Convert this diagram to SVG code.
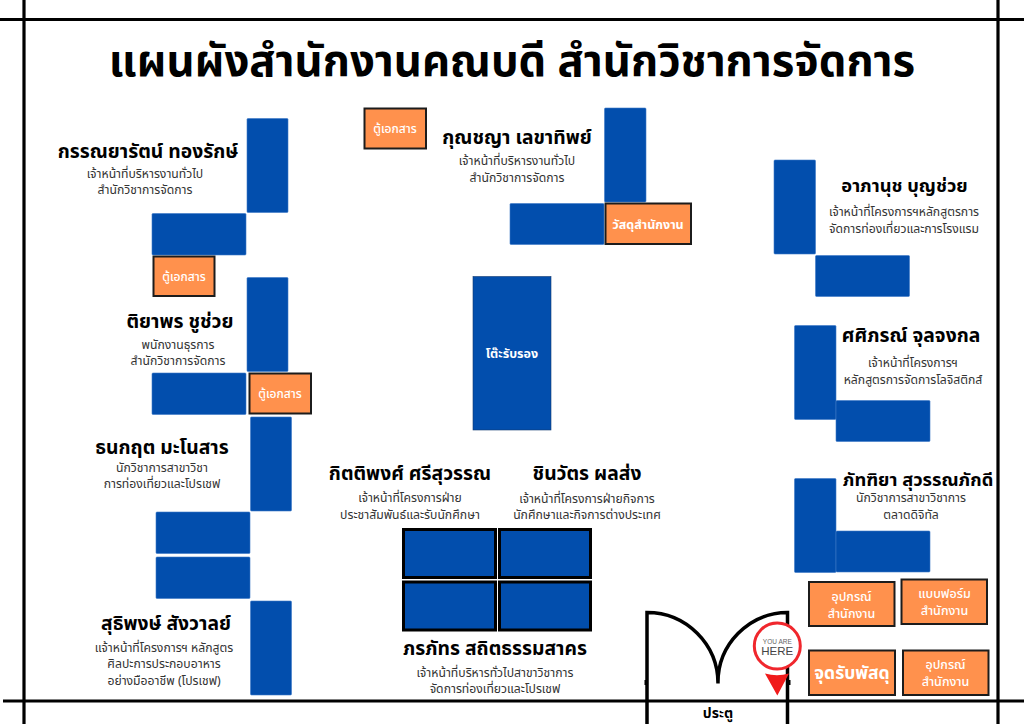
<svg xmlns="http://www.w3.org/2000/svg" width="1024" height="724" viewBox="0 0 1024 724">
<style>
text{font-family:"Noto Sans Thai","Noto Sans","Noto Sans CJK SC","DejaVu Sans","Liberation Sans",sans-serif;text-anchor:middle}
.desk{fill:#024ead;stroke:#3c78c8;stroke-width:.6}
.bdesk{fill:#024ead;stroke:#000;stroke-width:3}
.cab{fill:#ff914d;stroke:#1c1c1c;stroke-width:2}
.wall{stroke:#000;stroke-width:3.200;fill:none}
.n{font-size:19.300px;font-weight:700;fill:#000}
.ns{font-size:18.300px}
.r{font-size:12.200px;fill:#333}
.c{font-size:12px;font-weight:500;fill:#fff}
.c2{font-size:12.500px}
</style>
<rect width="1024" height="724" fill="#fff"/>
<g id="walls">
<path class="wall" d="M0 19.500H1024M24 0V724M998 0V724M3 701H1024"/>
</g>
<text id="title" x="512" y="76" style="font-size:43.600px;font-weight:700;fill:#000">แผนผังสำนักงานคณบดี สำนักวิชาการจัดการ</text>
<g id="door">
<path class="wall" d="M647 724V612.500A71 71 0 0 1 718 683.500M718 683.500A70 70 0 0 1 787.500 612.500V724" style="stroke-width:3.500"/>
<path d="M646 680v5M789 680v5" stroke="#000" stroke-width="3" fill="none"/>
<text x="718" y="718" style="font-size:14px;font-weight:700;fill:#000">ประตู</text>
</g>
<g id="you-are-here">
<circle cx="777.300" cy="646" r="23" fill="#fff" stroke="#f0272d" stroke-width="3"/>
<text x="777.300" y="644" style="font-size:6.500px;fill:#666;font-family:'Liberation Sans',sans-serif">YOU ARE</text>
<text x="777.300" y="655" style="font-size:11.500px;fill:#444;font-family:'Liberation Sans',sans-serif">HERE</text>
<path d="M765 673.500Q777 677 789 673.500L777.300 695.500Z" fill="#f01a1a"/>
</g>
<g id="furniture">
<rect class="desk" x="247" y="118.500" width="41" height="94" rx="1"/>
<rect class="desk" x="152" y="213.500" width="94" height="41.500" rx="1"/>
<rect class="desk" x="247" y="277.500" width="41" height="94" rx="1"/>
<rect class="desk" x="152" y="373" width="94" height="41.500" rx="1"/>
<rect class="desk" x="250.500" y="417" width="41" height="94" rx="1"/>
<rect class="desk" x="156" y="512" width="94" height="41.500" rx="1"/>
<rect class="desk" x="156" y="557" width="94" height="41.500" rx="1"/>
<rect class="desk" x="250.500" y="601" width="41" height="94" rx="1"/>
<rect class="desk" x="604.500" y="108" width="41.500" height="94" rx="1"/>
<rect class="desk" x="510" y="203.500" width="94" height="41" rx="1"/>
<rect class="desk" x="774" y="160" width="41.500" height="94" rx="1"/>
<rect class="desk" x="815.500" y="255.500" width="94" height="41" rx="1"/>
<rect class="desk" x="794.500" y="325.500" width="41.500" height="94" rx="1"/>
<rect class="desk" x="836" y="400.500" width="94" height="41" rx="1"/>
<rect class="desk" x="794.500" y="478.500" width="41.500" height="94" rx="1"/>
<rect class="desk" x="836" y="531" width="94" height="41" rx="1"/>
<rect class="desk" x="473" y="276.500" width="78" height="153.500" style="stroke:#123a70"/>
<rect class="bdesk" x="403.500" y="529.500" width="92" height="48"/>
<rect class="bdesk" x="499.500" y="529.500" width="91" height="48"/>
<rect class="bdesk" x="403.500" y="582" width="92" height="48"/>
<rect class="bdesk" x="499.500" y="582" width="91" height="48"/>
</g>
<g id="table"><text class="c" x="512" y="358" style="font-weight:700;font-size:12.500px">โต๊ะรับรอง</text></g>
<g id="cab1"><rect class="cab" x="364.500" y="108.500" width="61.500" height="40"/><text class="c" x="395" y="133">ตู้เอกสาร</text></g>
<g id="cab2"><rect class="cab" x="153.500" y="256.500" width="61" height="39.500"/><text class="c" x="184" y="281">ตู้เอกสาร</text></g>
<g id="cab3"><rect class="cab" x="249.500" y="373.500" width="61.500" height="40"/><text class="c" x="280" y="398">ตู้เอกสาร</text></g>
<g id="cab4"><rect class="cab" x="605.500" y="203.500" width="85.500" height="40.500"/><text class="c c2" x="648" y="229" style="font-weight:700">วัสดุสำนักงาน</text></g>
<g id="cab5"><rect class="cab" x="809" y="582" width="85.500" height="44"/><text class="c c2" x="851.500" y="601">อุปกรณ์</text><text class="c c2" x="851.500" y="618">สำนักงาน</text></g>
<g id="cab6"><rect class="cab" x="901.500" y="579.500" width="85.500" height="44.500"/><text class="c c2" x="944.500" y="598">แบบฟอร์ม</text><text class="c c2" x="944.500" y="615">สำนักงาน</text></g>
<g id="cab7"><rect class="cab" x="809" y="650.500" width="86" height="44.500"/><text class="c" x="852" y="679" style="font-size:17.500px;font-weight:700">จุดรับพัสดุ</text></g>
<g id="cab8"><rect class="cab" x="903" y="650.500" width="85.500" height="44.500"/><text class="c c2" x="945.500" y="669">อุปกรณ์</text><text class="c c2" x="945.500" y="686">สำนักงาน</text></g>
<g id="p1"><text class="n" x="148" y="158">กรรณยารัตน์ ทองรักษ์</text><text class="r" x="145" y="178">เจ้าหน้าที่บริหารงานทั่วไป</text><text class="r" x="145" y="194">สำนักวิชาการจัดการ</text></g>
<g id="p2"><text class="n" x="180" y="328">ติยาพร ชูช่วย</text><text class="r" x="178" y="349">พนักงานธุรการ</text><text class="r" x="178" y="365">สำนักวิชาการจัดการ</text></g>
<g id="p3"><text class="n" x="162" y="454">ธนกฤต มะโนสาร</text><text class="r" x="162" y="472">นักวิชาการสาขาวิชา</text><text class="r" x="162" y="488">การท่องเที่ยวและโปรเชฟ</text></g>
<g id="p4"><text class="n" x="166" y="630">สุธิพงษ์ สังวาลย์</text><text class="r" x="164" y="652">แจ้าหน้าที่โครงการฯ หลักสูตร</text><text class="r" x="164" y="668">ศิลปะการประกอบอาหาร</text><text class="r" x="164" y="685">อย่างมืออาชีพ (โปรเชฟ)</text></g>
<g id="p5"><text class="n" x="517" y="144">กุณชญา เลขาทิพย์</text><text class="r" x="517" y="165">เจ้าหน้าที่บริหารงานทั่วไป</text><text class="r" x="517" y="182">สำนักวิชาการจัดการ</text></g>
<g id="p6"><text class="n ns" x="904.500" y="192">อาภานุช บุญช่วย</text><text class="r" x="904" y="216">เจ้าหน้าที่โครงการฯหลักสูตรการ</text><text class="r" x="904" y="233">จัดการท่องเที่ยวและการโรงแรม</text></g>
<g id="p7"><text class="n" x="911" y="342">ศศิภรณ์ จุลจงกล</text><text class="r" x="913" y="367">เจ้าหน้าที่โครงการฯ</text><text class="r" x="913" y="384">หลักสูตรการจัดการโลจิสติกส์</text></g>
<g id="p8"><text class="n ns" x="918" y="486">ภัทฑิยา สุวรรณภักดี</text><text class="r" x="911" y="502">นักวิชาการสาขาวิชาการ</text><text class="r" x="911" y="519">ตลาดดิจิทัล</text></g>
<g id="p9"><text class="n" x="410" y="480">กิตติพงศ์ ศรีสุวรรณ</text><text class="r" x="410" y="502">เจ้าหน้าที่โครงการฝ่าย</text><text class="r" x="410" y="519">ประชาสัมพันธ์และรับนักศึกษา</text></g>
<g id="p10"><text class="n" x="587" y="480">ชินวัตร ผลส่ง</text><text class="r" x="587" y="503">เจ้าหน้าที่โครงการฝ่ายกิจการ</text><text class="r" x="587" y="519">นักศึกษาและกิจการต่างประเทศ</text></g>
<g id="p11"><text class="n" x="495" y="655">ภรภัทร สถิตธรรมสาคร</text><text class="r" x="495" y="677">เจ้าหน้าที่บริหารทั่วไปสาขาวิชาการ</text><text class="r" x="495" y="693">จัดการท่องเที่ยวและโปรเชฟ</text></g>
</svg>
